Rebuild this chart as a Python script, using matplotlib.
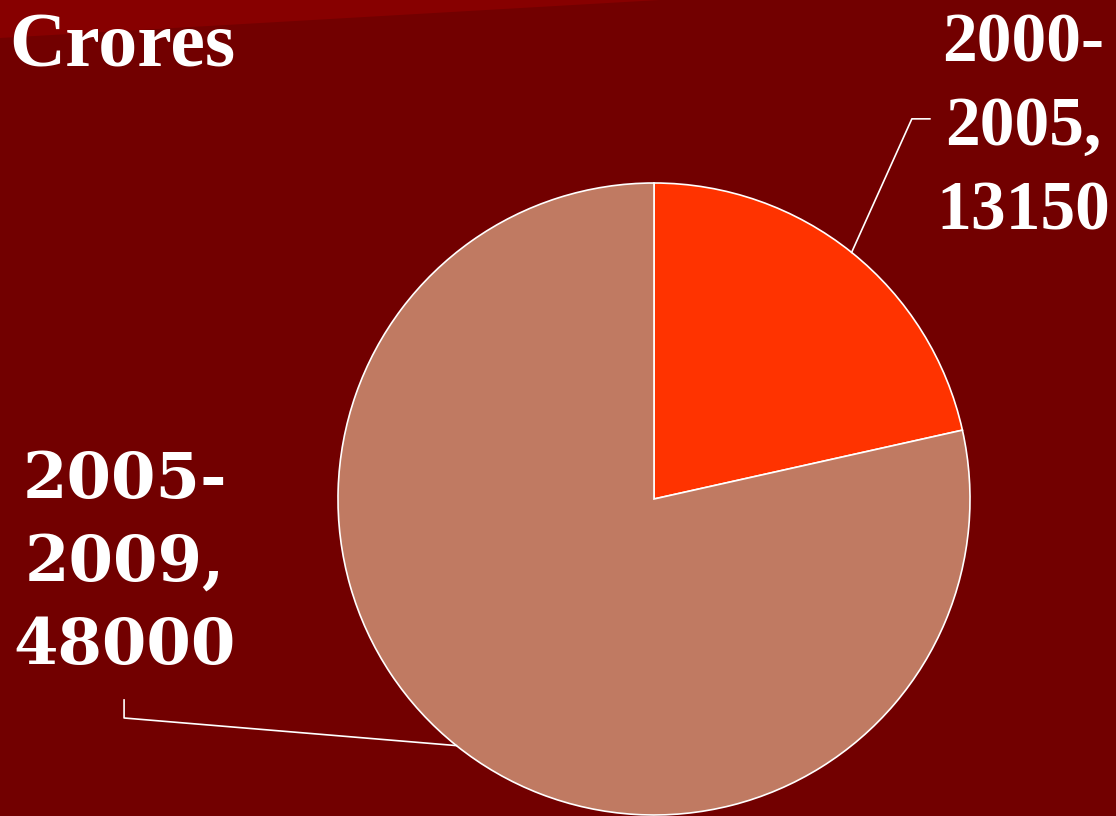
import numpy as np
import matplotlib
matplotlib.use("Agg")
import matplotlib.pyplot as plt
from matplotlib.patches import Polygon

# Data
categories = ["2000-\n2005,", "2005-\n2009,"]
values = [13150, 48000]
colors = ["#FF3300", "#C07A62"]
title = "Crores"

W, H = 1116, 816
fig = plt.figure(figsize=(W / 100, H / 100), dpi=100)
fig.patch.set_facecolor("#720000")

# top diagonal stripe
stripe = Polygon([(0, 1), (0, 1 - 38 / H), (660 / W, 1)], closed=True,
                 transform=fig.transFigure, facecolor="#870000", edgecolor="none")
fig.patches.append(stripe)

fig.text(9 / W, 1 - 48 / H, title, color="white", fontsize=56,
         fontweight="bold", family="Liberation Serif", va="center", ha="left")

cx, cy, r = 654, 499, 316
ax = fig.add_axes([(cx - r) / W, (H - cy - r) / H, 2 * r / W, 2 * r / H])
ax.set_facecolor("none")
wedges, _ = ax.pie(values, colors=colors, startangle=90, counterclock=False,
                   wedgeprops=dict(edgecolor="white", linewidth=1.2))
ax.set_xlim(-1, 1)
ax.set_ylim(-1, 1)
ax.set_aspect("equal")
ax.axis("off")

def mid_angle(w):
    return np.deg2rad((w.theta1 + w.theta2) / 2)

# upper label
a0 = mid_angle(wedges[0])
p0 = (np.cos(a0), np.sin(a0))
ax.plot([p0[0], 0.816, 0.873], [p0[1], 1.203, 1.203], color="white", lw=1.2, clip_on=False)
ax.text(1.168, 1.173, f"{categories[0]}\n{values[0]}", color="white", fontsize=50,
        fontweight="bold", family="Liberation Serif", ha="center", va="center",
        linespacing=1.41, clip_on=False)

# lower label
a1 = mid_angle(wedges[1])
p1 = (np.cos(a1), np.sin(a1))
ax.plot([p1[0], -1.677, -1.677], [p1[1], -0.693, -0.636], color="white", lw=1.2, clip_on=False)
ax.text(-1.674, -0.204, f"{categories[1]}\n{values[1]}", color="white", fontsize=46,
        fontweight="bold", family="DejaVu Serif", ha="center", va="center",
        linespacing=1.46, clip_on=False)

fig.savefig("out.png", dpi=100, facecolor=fig.get_facecolor())
